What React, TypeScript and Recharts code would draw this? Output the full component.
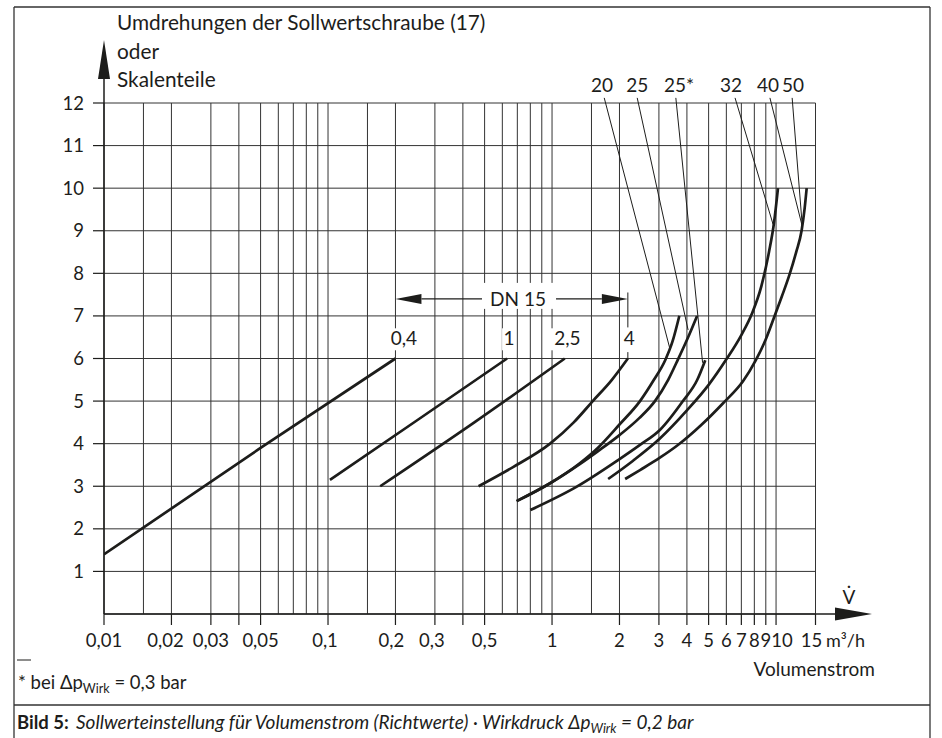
import React from 'react';
import { LineChart, Line, XAxis, YAxis, CartesianGrid, ReferenceLine, ReferenceDot } from 'recharts';

const FONT = 'Lato, "Noto Sans", sans-serif';
const INK = '#1d1d1b';

// ---------- axes ----------
const gridFlow = [0.01, 0.015, 0.02, 0.03, 0.04, 0.05, 0.06, 0.07, 0.08, 0.09, 0.1, 0.15, 0.2, 0.3, 0.4, 0.5, 0.6, 0.7, 0.8, 0.9, 1, 1.5, 2, 3, 4, 5, 6, 7, 8, 9, 10, 15];
const tickMarkFlow = [0.01, 0.02, 0.03, 0.04, 0.05, 0.1, 0.2, 0.3, 0.4, 0.5, 1, 2, 3, 4, 5, 6, 7, 8, 9, 10, 15];
const tickLabelFlow = [0.01, 0.02, 0.03, 0.05, 0.1, 0.2, 0.3, 0.5, 1, 2, 3, 4, 5, 6, 7, 8, 9, 10, 15];
const tickLabelText = ['0,01', '0,02', '0,03', '0,05', '0,1', '0,2', '0,3', '0,5', '1', '2', '3', '4', '5', '6', '7', '8', '9', '10', '15'];
const revTicks = [1, 2, 3, 4, 5, 6, 7, 8, 9, 10, 11, 12];

// ---------- curves (flow m³/h, revolutions) ----------
const dn15_04_flow = [0.01, 0.05, 0.2];
const dn15_04_rev = [1.4, 3.9, 6.0];
const dn15_1_flow = [0.102, 0.25, 0.63];
const dn15_1_rev = [3.15, 4.55, 6.0];
const dn15_25_flow = [0.171, 0.45, 1.14];
const dn15_25_rev = [3.0, 4.5, 6.0];
const dn15_4_flow = [0.47, 0.67, 0.98, 1.25, 1.52, 1.85, 2.18];
const dn15_4_rev = [3.0, 3.45, 4.0, 4.5, 5.0, 5.5, 6.0];
const dn20_flow = [0.695, 0.98, 1.33, 1.6, 2.0, 2.47, 2.85, 3.2, 3.45, 3.7];
const dn20_rev = [2.65, 3.07, 3.54, 3.9, 4.45, 5.0, 5.5, 5.96, 6.4, 7.0];
const dn25_flow = [0.695, 0.98, 1.33, 1.6, 2.0, 2.45, 2.88, 3.3, 3.65, 4.05, 4.44];
const dn25_rev = [2.65, 3.07, 3.52, 3.82, 4.2, 4.6, 5.0, 5.5, 5.98, 6.5, 7.0];
const dn25s_flow = [0.8, 1.29, 1.98, 2.47, 3.03, 3.84, 4.45, 4.83];
const dn25s_rev = [2.44, 2.99, 3.62, 3.97, 4.32, 5.0, 5.5, 5.96];
const dn32_flow = [1.78, 2.3, 3.03, 4.0, 5.0, 6.0, 7.0, 7.8, 8.6, 9.3, 9.8, 10.2];
const dn32_rev = [3.17, 3.6, 4.12, 4.78, 5.38, 5.98, 6.55, 7.05, 7.7, 8.5, 9.2, 10.0];
const dn40_50_flow = [2.12, 2.47, 3.03, 3.61, 4.66, 5.8, 7.13, 8.1, 9.0, 9.73, 10.6, 11.5, 12.3, 13.0, 13.4, 13.7];
const dn40_50_rev = [3.17, 3.38, 3.67, 3.95, 4.45, 4.95, 5.47, 5.95, 6.45, 6.92, 7.45, 7.98, 8.5, 9.0, 9.5, 10.0];

// ---------- annotations ----------
const curveLabelText = ['0,4', '1', '2,5', '4'];
const curveLabelFlow = [0.218, 0.643, 1.17, 2.21];
const curveLabelRev = 6.31;

const leaderText = ['20', '25', '25*', '32', '40', '50'];
const leaderTextFlow = [1.67, 2.4, 3.69, 6.3, 9.2, 11.9];
const leaderTopFlow = [1.71, 2.4, 3.57, 6.56, 9.39, 11.8];
const leaderEndFlow = [3.37, 4.05, 4.7, 9.7, 13.1, 13.1];
const leaderEndRev = [6.2, 6.67, 5.9, 9.15, 9.1, 9.1];
const leaderTopRev = 12.12;
const leaderTextRev = 12.25;

const dnArrowFrom = 0.2;
const dnArrowTo = 2.18;
const dnArrowRev = 7.4;
const dnLabelFlow = 0.705;
const dnLabel = 'DN 15';
const dn4StemRev = [7.55, 6.73, 6.15, 6.0];

const series = [
  { name: '0,4', flow: dn15_04_flow, rev: dn15_04_rev },
  { name: '1', flow: dn15_1_flow, rev: dn15_1_rev },
  { name: '2,5', flow: dn15_25_flow, rev: dn15_25_rev },
  { name: '4', flow: dn15_4_flow, rev: dn15_4_rev },
  { name: '20', flow: dn20_flow, rev: dn20_rev },
  { name: '25', flow: dn25_flow, rev: dn25_rev },
  { name: '25*', flow: dn25s_flow, rev: dn25s_rev },
  { name: '32', flow: dn32_flow, rev: dn32_rev },
  { name: '40/50', flow: dn40_50_flow, rev: dn40_50_rev },
];

// ---------- layout ----------
const W = 942;
const H = 738;
const PLOT_L = 104;
const PLOT_T = 103;
const PLOT_R = 815.5;
const PLOT_B = 614;

const labelShift = (txt: string) => {
  if (txt === '10') return 6;
  if (txt === '15') return -4;
  if (txt === '0,02') return -6;
  if (txt === '0,1' || txt === '0,3') return -3;
  if (txt === '0,2') return -4;
  return 0;
};

const XTick = (props: any) => {
  const { x, y, payload } = props;
  const v = payload.value;
  const mark = tickMarkFlow.indexOf(v) >= 0;
  const li = tickLabelFlow.indexOf(v);
  const txt = li >= 0 ? tickLabelText[li] : '';
  return (
    <g>
      {mark && <line x1={x} x2={x} y1={y} y2={y + 11} stroke={INK} strokeWidth={1.2} />}
      {li >= 0 && (
        <text x={x + labelShift(txt)} y={y + 33} textAnchor="middle" fontSize={18.5} fontFamily={FONT} fill={INK}>
          {txt}
        </text>
      )}
    </g>
  );
};

const textLabel = (text: string, bg: boolean) => (p: any) => {
  const { cx, cy } = p;
  if (cx == null || cy == null) return <g />;
  const w = text.length * 10 + 4;
  return (
    <g>
      {bg && <rect x={cx - w / 2} y={cy - 17} width={w} height={22} fill="#fff" />}
      <text x={cx} y={cy} textAnchor="middle" fontSize={19} fontFamily={FONT} fill={INK}>
        {text}
      </text>
    </g>
  );
};

const DnArrow = (p: any) => {
  const { x1, y1, x2 } = p;
  if (x1 == null) return <g />;
  const y = y1;
  const L = 26;
  const HH = 5;
  const frac = (Math.log10(dnLabelFlow) - Math.log10(dnArrowFrom)) / (Math.log10(dnArrowTo) - Math.log10(dnArrowFrom));
  const lx = x1 + (x2 - x1) * frac;
  return (
    <g>
      <rect x={lx - 38} y={y - 16} width={74} height={26} fill="#fff" />
      <line x1={x1 + L} y1={y} x2={lx - 36} y2={y} stroke={INK} strokeWidth={1.1} />
      <line x1={lx + 38} y1={y} x2={x2 - L} y2={y} stroke={INK} strokeWidth={1.1} />
      <polygon points={`${x1},${y} ${x1 + L},${y - HH} ${x1 + L},${y + HH}`} fill={INK} />
      <polygon points={`${x2},${y} ${x2 - L},${y - HH} ${x2 - L},${y + HH}`} fill={INK} />
      <text x={lx} y={y + 7} textAnchor="middle" fontSize={19} fontFamily={FONT} fill={INK}>
        {dnLabel}
      </text>
    </g>
  );
};

export default function App() {
  return (
    <div style={{ position: 'absolute', left: 0, top: 0, width: W, height: H, background: '#fff' }}>
      <LineChart
        width={W}
        height={H}
        margin={{ top: PLOT_T, left: 0, right: W - PLOT_R, bottom: 0 }}
      >
        <CartesianGrid stroke="#333" strokeWidth={1} />
        <XAxis
          dataKey="flow"
          type="number"
          scale="log"
          domain={[0.01, 15]}
          allowDataOverflow
          ticks={gridFlow}
          interval={0}
          height={H - PLOT_B}
          tickSize={0}
          tickMargin={0}
          tickLine={false}
          axisLine={{ stroke: INK, strokeWidth: 1.5 }}
          tick={<XTick />}
        />
        <YAxis
          type="number"
          domain={[0, 12]}
          ticks={revTicks}
          interval={0}
          width={PLOT_L}
          tickSize={11}
          tickMargin={9}
          tickLine={{ stroke: INK, strokeWidth: 1.2 }}
          axisLine={{ stroke: INK, strokeWidth: 1.5 }}
          tick={{ fontSize: 18.5, fill: INK, fontFamily: FONT }}
        />
        {series.map((s) => (
          <Line
            key={s.name}
            name={s.name}
            data={s.flow.map((f, i) => ({ flow: f, rev: s.rev[i] }))}
            dataKey="rev"
            type="monotone"
            dot={false}
            activeDot={false}
            stroke={INK}
            strokeWidth={2.7}
            isAnimationActive={false}
          />
        ))}
        {leaderText.map((t, i) => (
          <ReferenceLine
            key={'ld' + t}
            segment={[
              { x: leaderTopFlow[i], y: leaderTopRev },
              { x: leaderEndFlow[i], y: leaderEndRev[i] },
            ]}
            ifOverflow="visible"
            stroke={INK}
            strokeWidth={1}
          />
        ))}
        <ReferenceLine
          segment={[
            { x: dnArrowFrom, y: dnArrowRev },
            { x: dnArrowTo, y: dnArrowRev },
          ]}
          ifOverflow="visible"
          shape={(p: any) => <DnArrow {...p} />}
        />
        <ReferenceLine
          segment={[
            { x: dnArrowTo, y: dn4StemRev[0] },
            { x: dnArrowTo, y: dn4StemRev[1] },
          ]}
          ifOverflow="visible"
          stroke={INK}
          strokeWidth={1}
        />
        <ReferenceLine
          segment={[
            { x: dnArrowTo, y: dn4StemRev[2] },
            { x: dnArrowTo, y: dn4StemRev[3] },
          ]}
          ifOverflow="visible"
          stroke={INK}
          strokeWidth={1}
        />
        {curveLabelText.map((t, i) => (
          <ReferenceDot
            key={'cl' + t}
            x={curveLabelFlow[i]}
            y={curveLabelRev}
            r={0}
            ifOverflow="visible"
            shape={textLabel(t, true)}
          />
        ))}
        {leaderText.map((t, i) => (
          <ReferenceDot
            key={'lt' + t}
            x={leaderTextFlow[i]}
            y={leaderTextRev}
            r={0}
            ifOverflow="visible"
            shape={textLabel(t, false)}
          />
        ))}
      </LineChart>
      <svg
        width={W}
        height={H}
        style={{ position: 'absolute', left: 0, top: 0, pointerEvents: 'none' }}
        fontFamily={FONT}
        fill={INK}
      >
        {/* frame */}
        <line x1={14} y1={7} x2={930} y2={7} stroke="#333" strokeWidth={1.3} />
        <line x1={14} y1={7} x2={14} y2={H} stroke="#333" strokeWidth={1.3} />
        <line x1={930} y1={7} x2={930} y2={H} stroke="#333" strokeWidth={1.3} />
        <line x1={14} y1={705} x2={930} y2={705} stroke="#333" strokeWidth={1.3} />
        {/* y axis arrow */}
        <line x1={PLOT_L} y1={PLOT_T} x2={PLOT_L} y2={76} stroke={INK} strokeWidth={1.5} />
        <polygon points={`${PLOT_L - 6},79 ${PLOT_L},40 ${PLOT_L + 6},79`} fill={INK} />
        {/* x axis arrow */}
        <line x1={PLOT_R} y1={PLOT_B} x2={838} y2={PLOT_B} stroke={INK} strokeWidth={1.5} />
        <polygon points={`835,${PLOT_B - 6.5} 872,${PLOT_B} 835,${PLOT_B + 6.5}`} fill={INK} />
        {/* y title */}
        <text x={117} y={30} fontSize={20.8}>Umdrehungen der Sollwertschraube (17)</text>
        <text x={117} y={59} fontSize={20.8}>oder</text>
        <text x={117} y={87} fontSize={20.8}>Skalenteile</text>
        {/* x title */}
        <text x={849} y={604} fontSize={19} textAnchor="middle">{'V\u0307'}</text>
        <text x={826} y={647} fontSize={18}>m³/h</text>
        <text x={875} y={676} fontSize={19} textAnchor="end">Volumenstrom</text>
        {/* footnote */}
        <line x1={17} y1={660} x2={31} y2={660} stroke={INK} strokeWidth={1} />
        <text x={18} y={689} fontSize={18.5}>
          * bei Δp<tspan fontSize={12.5} dy={4}>Wirk</tspan>
          <tspan dy={-4}> = 0,3 bar</tspan>
        </text>
        {/* caption */}
        <text x={17} y={729} fontSize={18.5} fontWeight="bold">Bild 5:</text>
        <text x={76} y={729} fontSize={19} fontStyle="italic">
          Sollwerteinstellung für Volumenstrom (Richtwerte) · Wirkdruck Δp
          <tspan fontSize={13} dy={4}>Wirk</tspan>
          <tspan dy={-4}> = 0,2 bar</tspan>
        </text>
      </svg>
    </div>
  );
}
